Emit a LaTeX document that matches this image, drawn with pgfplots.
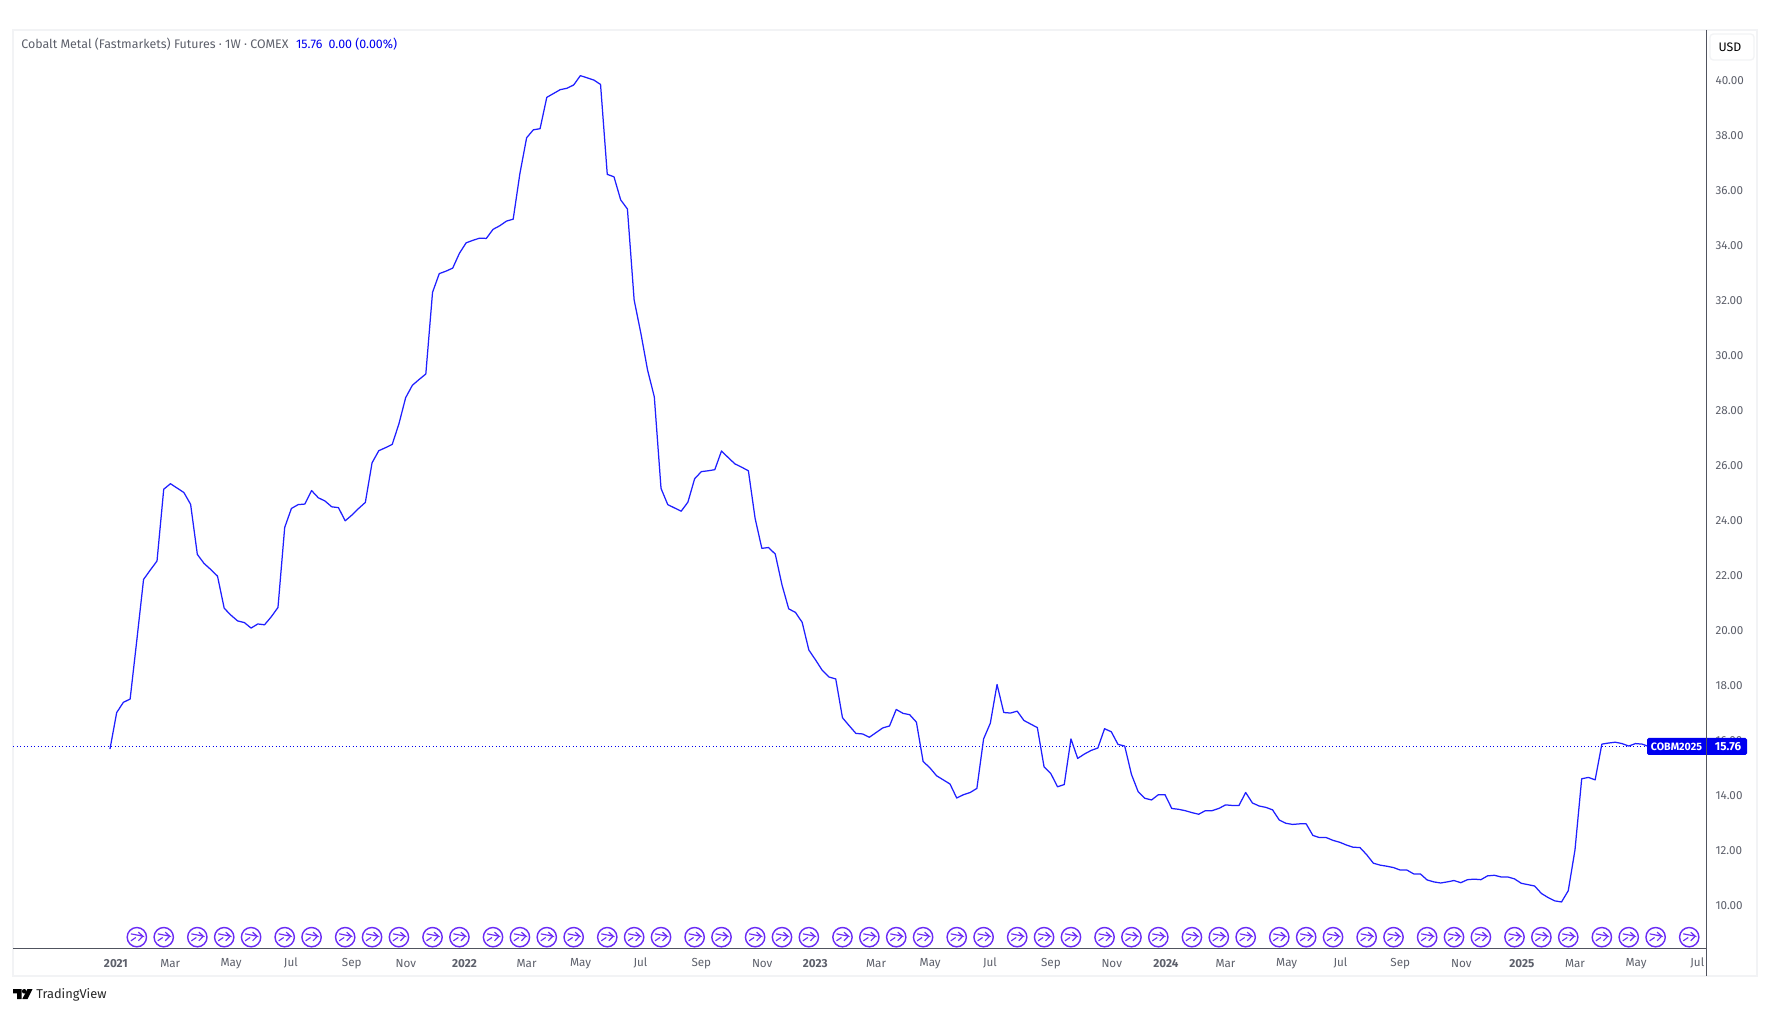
\documentclass[border=0pt]{standalone}
\usepackage{pgfplots}
\pgfplotsset{compat=1.18}
\usepackage{fontspec}
\setmainfont{Fira Sans}
\definecolor{tvblue}{HTML}{1F1FFF}
\definecolor{tvtag}{HTML}{0000F0}
\definecolor{tvgray}{HTML}{5D606B}
\definecolor{tvaxis}{HTML}{50535E}
\definecolor{tvframe}{HTML}{F2F3F5}
\definecolor{tvevt}{HTML}{6A2CF5}
\pgfdeclareplotmark{evt}{%
  \pgfsetlinewidth{0.85pt}%
  \pgfsetstrokecolor{tvevt}%
  \pgfpathcircle{\pgfpoint{0pt}{0pt}}{5.8pt}%
  \pgfusepathqstroke
  \pgfsetlinewidth{0.7pt}%
  \pgfpathmoveto{\pgfpoint{-3.6pt}{2.0pt}}%
  \pgfpathlineto{\pgfpoint{3.6pt}{0.6pt}}%
  \pgfpathlineto{\pgfpoint{0.9pt}{3.0pt}}%
  \pgfusepathqstroke
  \pgfpathmoveto{\pgfpoint{3.6pt}{0.6pt}}%
  \pgfpathlineto{\pgfpoint{0.9pt}{-2.2pt}}%
  \pgfusepathqstroke
  \pgfpathmoveto{\pgfpoint{-3.6pt}{-2.2pt}}%
  \pgfpathlineto{\pgfpoint{-0.6pt}{-0.2pt}}%
  \pgfusepathqstroke
}
\begin{document}
\begin{tikzpicture}
\begin{scope}[shift={(-7.8pt,569.4pt)},x=0.6pt,y=-0.6pt]
  \path[use as bounding box] (0,0) rectangle (1768,1012);
  \fill[white] (0,0) rectangle (1768,1012);
  \draw[tvframe,line width=1.2pt] (13,30) rectangle (1757,976);
\end{scope}
\begin{axis}[
  at={(0pt,0pt)},anchor=south west,
  scale only axis,width=1015.8pt,height=551.4pt,
  xmin=-14.43,xmax=237.5,ymin=8.4,ymax=41.82,
  axis y line*=right,axis x line*=bottom,
  axis line style={tvaxis,line width=0.6pt},
  tick style={draw=none},
  ytick={10,12,...,40},
  xtick={0.89,8.97,18.03,26.92,35.98,44.03,52.76,61.99,70.04,78.94,88.0,97.06,104.94,114.0,122.06,130.95,140.01,149.07,157.13,166.0,175.1,183.1,192.0,201.1,210.1,218.0,227.1,236.2},
  xticklabels={\textbf{2021},Mar,May,Jul,Sep,Nov,\textbf{2022},Mar,May,Jul,Sep,Nov,\textbf{2023},Mar,May,Jul,Sep,Nov,\textbf{2024},Mar,May,Jul,Sep,Nov,\textbf{2025},Mar,May,Jul},
  /pgf/number format/assume math mode=true,
  /pgf/number format/fixed,/pgf/number format/zerofill,/pgf/number format/precision=2,
  yticklabel style={font=\fontsize{7pt}{8pt}\selectfont,text=tvgray,anchor=west,xshift=2.2pt,yshift=-0.6pt},
  xticklabel style={font=\fontsize{7pt}{8pt}\selectfont,text=tvgray,anchor=center,yshift=-8.6pt},
]
\addplot[tvtag,line width=0.6pt,dash pattern=on 0.6pt off 1.5pt] coordinates {(-14.43,15.76) (229,15.76)};
\addplot[tvblue,line width=0.75pt,line join=round] coordinates {
(0,15.67)(1,17.0)(2,17.37)(3,17.49)(4,19.64)(5,21.84)(6,22.18)(7,22.51)(8,25.12)(9,25.32)
(10,25.16)(11,25.0)(12,24.57)(13,22.75)(14,22.42)(15,22.2)(16,21.96)(17,20.79)(18,20.54)(19,20.33)
(20,20.27)(21,20.07)(22,20.22)(23,20.19)(24,20.48)(25,20.82)(26,23.73)(27,24.42)(28,24.56)(29,24.58)
(30,25.07)(31,24.81)(32,24.69)(33,24.48)(34,24.45)(35,23.97)(36,24.18)(37,24.42)(38,24.64)(39,26.08)
(40,26.52)(41,26.63)(42,26.75)(43,27.5)(44,28.45)(45,28.9)(46,29.11)(47,29.31)(48,32.28)(49,32.96)
(50,33.05)(51,33.16)(52,33.70)(53,34.08)(54,34.17)(55,34.25)(56,34.24)(57,34.57)(58,34.70)(59,34.87)
(60,34.94)(61,36.6)(62,37.9)(63,38.19)(64,38.23)(65,39.37)(66,39.51)(67,39.65)(68,39.70)(69,39.82)
(70,40.16)(71,40.08)(72,40.0)(73,39.84)(74,36.57)(75,36.48)(76,35.64)(77,35.31)(78,32.0)(79,30.79)
(80,29.45)(81,28.48)(82,25.15)(83,24.56)(84,24.44)(85,24.32)(86,24.65)(87,25.5)(88,25.76)(89,25.79)
(90,25.83)(91,26.51)(92,26.27)(93,26.04)(94,25.92)(95,25.79)(96,24.06)(97,22.97)(98,23.0)(99,22.76)
(100,21.64)(101,20.77)(102,20.64)(103,20.28)(104,19.27)(105,18.91)(106,18.53)(107,18.29)(108,18.22)(109,16.81)
(110,16.52)(111,16.24)(112,16.22)(113,16.10)(114,16.27)(115,16.44)(116,16.51)(117,17.11)(118,16.97)(119,16.92)
(120,16.65)(121,15.22)(122,14.99)(123,14.70)(124,14.55)(125,14.40)(126,13.89)(127,14.01)(128,14.09)(129,14.24)
(130,16.04)(131,16.61)(132,18.02)(133,17.0)(134,16.98)(135,17.05)(136,16.71)(137,16.58)(138,16.45)(139,15.02)
(140,14.78)(141,14.30)(142,14.38)(143,16.04)(144,15.33)(145,15.49)(146,15.62)(147,15.71)(148,16.41)(149,16.30)
(150,15.84)(151,15.78)(152,14.75)(153,14.12)(154,13.88)(155,13.82)(156,14.01)(157,14.01)(158,13.51)(159,13.48)
(160,13.43)(161,13.36)(162,13.30)(163,13.43)(164,13.43)(165,13.51)(166,13.64)(167,13.62)(168,13.62)(169,14.09)
(170,13.71)(171,13.60)(172,13.55)(173,13.46)(174,13.09)(175,12.97)(176,12.93)(177,12.95)(178,12.95)(179,12.53)
(180,12.45)(181,12.45)(182,12.35)(183,12.28)(184,12.18)(185,12.10)(186,12.09)(187,11.83)(188,11.52)(189,11.45)
(190,11.41)(191,11.36)(192,11.27)(193,11.27)(194,11.13)(195,11.13)(196,10.91)(197,10.84)(198,10.80)(199,10.84)
(200,10.89)(201,10.81)(202,10.92)(203,10.94)(204,10.92)(205,11.06)(206,11.08)(207,11.02)(208,11.02)(209,10.95)
(210,10.79)(211,10.74)(212,10.69)(213,10.42)(214,10.27)(215,10.15)(216,10.11)(217,10.52)(218,12.0)(219,14.59)
(220,14.64)(221,14.55)(222,15.85)(223,15.89)(224,15.92)(225,15.87)(226,15.78)(227,15.87)(228,15.85)(229,15.76)
};
\addplot[only marks,mark=evt] coordinates {
(4,8.83)(8,8.83)(13,8.83)(17,8.83)(21,8.83)(26,8.83)(30,8.83)(35,8.83)(39,8.83)(43,8.83)(48,8.83)(52,8.83)(57,8.83)(61,8.83)(65,8.83)(69,8.83)(74,8.83)(78,8.83)(82,8.83)(87,8.83)(91,8.83)(96,8.83)(100,8.83)(104,8.83)(109,8.83)(113,8.83)(117,8.83)(121,8.83)(126,8.83)(130,8.83)(135,8.83)(139,8.83)(143,8.83)(148,8.83)(152,8.83)(156,8.83)(161,8.83)(165,8.83)(169,8.83)(174,8.83)(178,8.83)(182,8.83)(187,8.83)(191,8.83)(196,8.83)(200,8.83)(204,8.83)(209,8.83)(213,8.83)(217,8.83)(222,8.83)(226,8.83)(230,8.83)(235,8.83)
};
\end{axis}
\begin{scope}[shift={(-7.8pt,569.4pt)},x=0.6pt,y=-0.6pt]
  \draw[tvaxis,line width=0.6pt] (1706,30) -- (1706,976);
  % title
  \node[anchor=west,inner sep=0pt,font=\fontsize{7.45pt}{8.5pt}\selectfont,text=tvgray] at (21,44.5)
    {Cobalt Metal (Fastmarkets) Futures · 1W · COMEX\hspace{0.6em}\textcolor{tvtag}{15.76\hspace{0.5em}0.00 (0.00\%)}};
  % USD box
  \draw[tvframe,line width=0.8pt,fill=white,rounded corners=2pt] (1710,34) rectangle (1754,60);
  \node[inner sep=0pt,font=\fontsize{7.4pt}{8pt}\selectfont,text=black] at (1730,47.5) {USD};
  % last-price tag
  \fill[tvtag,rounded corners=1pt] (1647,738) rectangle (1747,755);
  \draw[tvaxis,line width=0.6pt] (1706,738) -- (1706,755);
  \node[inner sep=0pt,font=\fontsize{6.4pt}{8pt}\selectfont\bfseries,text=white] at (1676.5,747) {COBM2025};
  \node[inner sep=0pt,font=\fontsize{7pt}{8pt}\selectfont\bfseries,text=white] at (1728,747) {15.76};
  % TradingView logo
  \fill[black] (13,989) -- (21.5,989) -- (21.5,999) -- (17,999) -- (17,993.3) -- (13,993.3) -- cycle;
  \fill[black] (24.2,991.3) circle (2.3);
  \fill[black] (27.5,989) -- (32.5,989) -- (27.5,999) -- (22.3,999) -- cycle;
  \node[anchor=west,inner sep=0pt,font=\fontsize{7.7pt}{9pt}\selectfont,text=black!85] at (36,995) {TradingView};
\end{scope}
\end{tikzpicture}
\end{document}
